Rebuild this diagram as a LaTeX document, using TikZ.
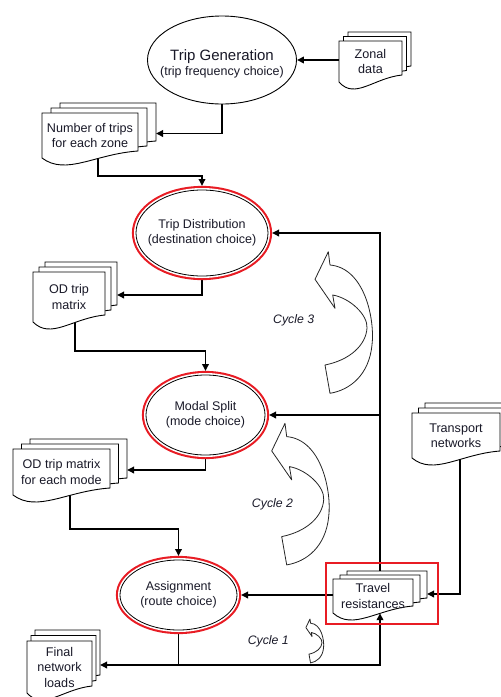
\documentclass[tikz,border=0pt]{standalone}
\usepackage{fontspec}
\setmainfont{Liberation Sans}
\usetikzlibrary{arrows.meta,shapes.geometric}
\pgfdeclarelayer{bg}
\pgfsetlayers{bg,main}
\definecolor{ink}{RGB}{25,25,40}
\definecolor{hlred}{RGB}{232,28,36}

\tikzset{
  conn/.style={line width=1.7pt, draw=black},
  arr/.style={conn, -{Triangle[length=7pt,width=6.5pt]}},
  docline/.style={draw=black, line width=0.9pt, fill=white},
  doctext/.style={inner sep=0pt, align=center, text=ink, font=\fontsize{12.6}{15.5}\selectfont},
  eltext/.style={inner sep=0pt, align=center, text=ink, font=\fontsize{12.5}{15.5}\selectfont},
  plainstep/.style={ellipse, draw=black, line width=0.9pt, fill=white, inner sep=0pt},
  ringstep/.style={ellipse, draw=black, line width=0.8pt, fill=white, inner sep=0pt, outer sep=4pt,
    preaction={draw=hlred, line width=8.2pt}, preaction={draw=white, line width=4pt}},
  cyc/.style={draw=black!85, line width=0.8pt, fill=white, line join=round},
  cyclabel/.style={inner sep=0pt, text=ink, font=\fontsize{12.3}{14}\selectfont\itshape},
  cyclearrow/.pic={
    \filldraw[cyc] (0,0) -- (-13.3,27.6) -- (6.7,56.6) -- (4.4,43.3)
      .. controls (21.7,46.3) and (39.7,63.3) .. (38.7,76.3)
      .. controls (37.7,93.3) and (21.7,108.3) .. (-3.3,113.3)
      -- (1.7,141.6)
      .. controls (21.7,138.3) and (40.7,123.3) .. (43.7,93.3)
      .. controls (46.7,68.3) and (36.7,16.3) .. (1.7,13.3) -- cycle;
  }
}

% one sheet of a document stack: top-left corner, width, height
\newcommand\docpage[4]{%
  \filldraw[docline] ({#1},{#2}) -- ({#1+#3},{#2}) -- ({#1+#3},{#2+#4-7})
    .. controls ({#1+0.55*#3},{#2+#4-4}) and ({#1+0.25*#3},{#2+#4+18}) .. ({#1},{#2+#4}) -- cycle;}

% stack of three sheets: name, x, y, width, height, sheet offset x, sheet offset y, text
\newcommand\docstack[8]{%
  \docpage{#2+2*#6}{#3-2*#7}{#4}{#5}
  \docpage{#2+#6}{#3-#7}{#4}{#5}
  \docpage{#2}{#3}{#4}{#5}
  \node[doctext, minimum width=#4, minimum height=#5] (#1) at ({#2+#4/2},{#3+#5/2}) {#8};
  \coordinate (#1-back) at ({#2+#4+2*#6},{#3+#5/2-2});
}

\begin{document}
\begin{tikzpicture}[x=1pt,y=-1pt]
\useasboundingbox (0,0) rectangle (501,697);

% data stacks
\docstack{zd}{339}{41}{63}{41}{4.5}{4.5}{Zonal\\data}
\docstack{nt}{42}{113}{96}{45}{9}{5}{Number of trips\\for each zone}
\docstack{od}{33}{272}{72}{50}{6}{5}{OD trip\\matrix}
\docstack{om}{13}{449}{97}{46}{8.5}{5}{OD trip matrix\\for each mode}
\docstack{fl}{27}{641}{65}{52}{4}{5.5}{Final\\network\\loads}
\docstack{tn}{412}{413}{88}{45}{6.5}{5}{Transport\\networks}
\docstack{tr}{333}{579}{80}{34}{7}{4}{Travel\\resistances}

% model stages
\node[plainstep, minimum width=149, minimum height=88] (tg) at (222,60) {};
\node[eltext] (tg-t) at ([yshift=-4pt]tg.center)
  {{\fontsize{15}{16}\selectfont Trip Generation}\\(trip frequency choice)};

\node[ringstep, minimum width=132, minimum height=86] (td) at (202,233) {};
\node[eltext] (td-t) at (td.center) {Trip Distribution\\(destination choice)};

\node[ringstep, minimum width=119, minimum height=80] (ms) at (205.5,415) {};
\node[eltext] (ms-t) at (ms.center) {Modal Split\\(mode choice)};

\node[ringstep, minimum width=117, minimum height=70] (as) at (178.5,595) {};
\node[eltext] (as-t) at (as.center) {Assignment\\(route choice)};

% highlight around the travel resistances
\node[draw=hlred, line width=2pt, minimum width=112, minimum height=61, inner sep=0pt] (hl) at (382,593.5) {};

% bend points of the connectors
\coordinate (b1) at (98,176);
\coordinate (b2) at (75,351);
\coordinate (b3) at (70,529);
\coordinate (b4) at (460,594);
\coordinate (v) at (380,0);

\begin{pgfonlayer}{bg}
  \draw[arr] (zd.west |- tg.east) -- (tg.east);
  \draw[arr] (tg.south) |- (nt-back);
  \draw[arr] (b1 |- nt.center) -- (b1) -| (td.north);
  \draw[arr] (td.south) |- (od-back);
  \draw[arr] (b2 |- od.center) -- (b2) -| (ms.north);
  \draw[arr] (ms.south) |- (om-back);
  \draw[arr] (b3 |- om.center) -- (b3) -| (as.north);
  \draw[arr] (as.south) |- (fl-back);
  \draw[arr] (as.south |- fl-back) -| (v |- tr.south);
  \draw[arr] (v |- tr.center) |- (td.east);
  \draw[arr] (v |- ms.east) -- (ms.east);
  \draw[arr] (tr.west |- as.east) -- (as.east);
  \draw[arr] (b4 |- tn.center) |- (tr-back);
\end{pgfonlayer}

% feedback cycles
\pic at (328.3,251.7) {cyclearrow};
\pic at (285,423.3) {cyclearrow};
\pic[scale=0.31] at (310,619) {cyclearrow};
\node[cyclabel] (c3) at (293.7,320.7) {Cycle 3};
\node[cyclabel] (c2) at (272.5,504) {Cycle 2};
\node[cyclabel] (c1) at (268.3,641.7) {Cycle 1};
\end{tikzpicture}
\end{document}
